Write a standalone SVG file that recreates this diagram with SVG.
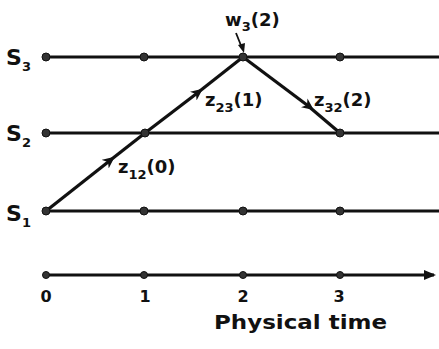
<svg xmlns="http://www.w3.org/2000/svg" width="439" height="349" viewBox="0 0 439 349">
<defs>
<style>
.ln{stroke:#111;stroke-width:3;fill:none}
.msg{stroke:#111;stroke-width:3.2;fill:none}
.dot{fill:#333;stroke:#111;stroke-width:1}
text{font-family:"DejaVu Sans","Liberation Sans",sans-serif;font-weight:bold;fill:#111}
.big{font-size:22px}
.sub{font-size:13px}
.lab{font-size:18px}
.num{font-size:16px}
</style>
<marker id="ah" markerWidth="12" markerHeight="12" refX="6" refY="6" orient="auto" markerUnits="userSpaceOnUse">
<path d="M0,0.5 L12,6 L0,11.5 L3.5,6 Z" fill="#111"/>
</marker>
<marker id="ax" markerWidth="12" markerHeight="10" refX="10" refY="5" orient="auto" markerUnits="userSpaceOnUse">
<path d="M0,0 L12,5 L0,10 Z" fill="#111"/>
</marker>
</defs>
<rect width="439" height="349" fill="#fff"/>
<g id="connectors">
<line class="ln" x1="46" y1="57" x2="439" y2="57"/>
<line class="ln" x1="46" y1="133" x2="439" y2="133"/>
<line class="ln" x1="46" y1="211" x2="439" y2="211"/>
<line class="ln" x1="46" y1="275" x2="434" y2="275" marker-end="url(#ax)"/>
<path class="msg" d="M46,211 L110,160.5" marker-end="url(#ah)"/>
<line class="msg" x1="108" y1="162" x2="145" y2="133"/>
<path class="msg" d="M145,133 L198,92.5" marker-end="url(#ah)"/>
<line class="msg" x1="196" y1="94" x2="243" y2="57"/>
<path class="msg" d="M243,57 L309,106.5" marker-end="url(#ah)"/>
<line class="msg" x1="307" y1="105" x2="340" y2="133"/>
<path d="M236,33 L242,48" stroke="#111" stroke-width="1.8" fill="none"/>
<path d="M238,45 L244,53 L245,43 Z" fill="#111"/>
</g>
<g id="S3">
<circle class="dot" cx="46" cy="57" r="4"/>
<circle class="dot" cx="144" cy="57" r="4"/>
<circle class="dot" cx="243" cy="57" r="4"/>
<circle class="dot" cx="340" cy="57" r="4"/>
<text class="big" x="6" y="65">S</text><text class="sub" x="22" y="71">3</text>
</g>
<g id="S2">
<circle class="dot" cx="46" cy="133" r="4"/>
<circle class="dot" cx="145" cy="133" r="4"/>
<circle class="dot" cx="340" cy="133" r="4"/>
<text class="big" x="6" y="141">S</text><text class="sub" x="22" y="147">2</text>
</g>
<g id="S1">
<circle class="dot" cx="46" cy="211" r="4"/>
<circle class="dot" cx="144" cy="211" r="4"/>
<circle class="dot" cx="243" cy="211" r="4"/>
<circle class="dot" cx="340" cy="211" r="4"/>
<text class="big" x="6" y="221">S</text><text class="sub" x="22" y="227">1</text>
</g>
<g id="axis">
<circle class="dot" cx="46" cy="275" r="3.5"/>
<circle class="dot" cx="144" cy="275" r="3.5"/>
<circle class="dot" cx="243" cy="275" r="3.5"/>
<circle class="dot" cx="340" cy="275" r="3.5"/>
<text class="num" x="46" y="302" text-anchor="middle">0</text>
<text class="num" x="145" y="302" text-anchor="middle">1</text>
<text class="num" x="243" y="302" text-anchor="middle">2</text>
<text class="num" x="339" y="302" text-anchor="middle">3</text>
<text x="214" y="329" font-size="20" textLength="173" lengthAdjust="spacingAndGlyphs">Physical time</text>
</g>
<g id="labels">
<text class="lab" x="225" y="26">w<tspan class="sub" dy="5">3</tspan><tspan dy="-5">(2)</tspan></text>
<text class="lab" x="205" y="106">z<tspan class="sub" dy="6">23</tspan><tspan dy="-6">(1)</tspan></text>
<text class="lab" x="314" y="106">z<tspan class="sub" dy="6">32</tspan><tspan dy="-6">(2)</tspan></text>
<text class="lab" x="118" y="173">z<tspan class="sub" dy="6">12</tspan><tspan dy="-6">(0)</tspan></text>
</g>
</svg>
